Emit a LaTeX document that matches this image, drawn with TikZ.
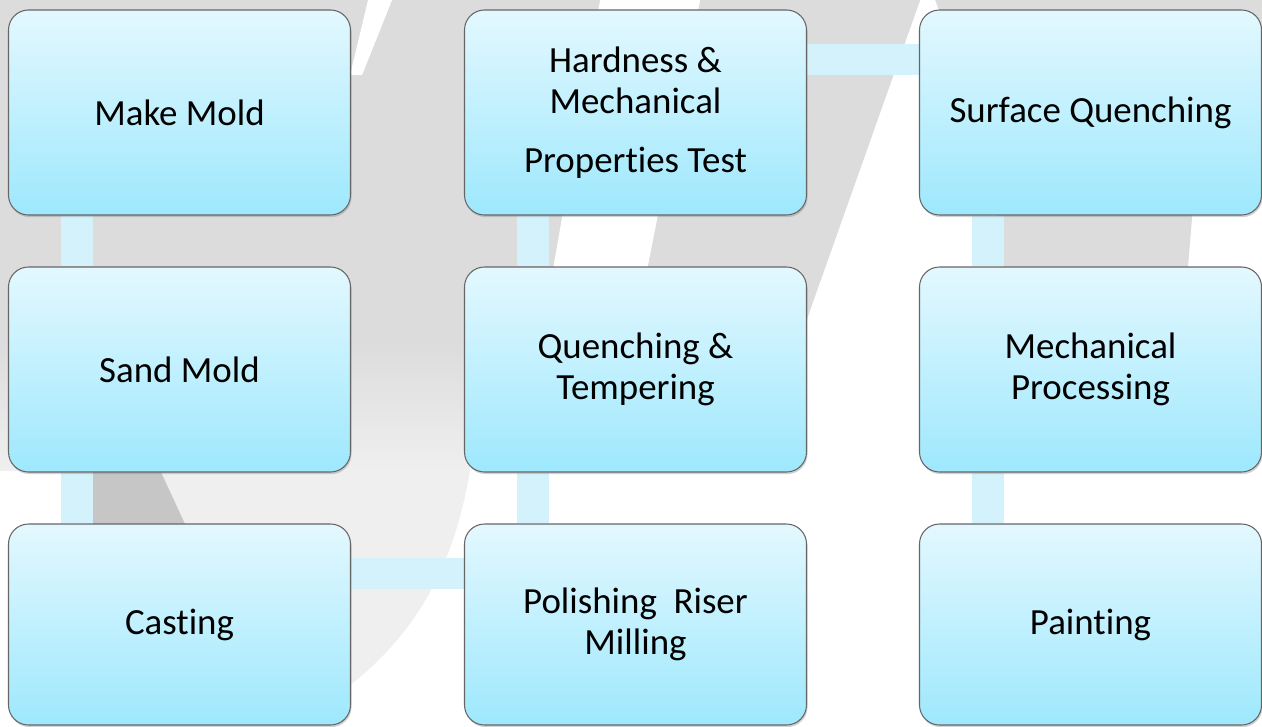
\documentclass[tikz,border=0pt]{standalone}
\usepackage{fontspec}
\setmainfont[RawFeature=-liga]{Carlito}
\usetikzlibrary{shadows,backgrounds}

\definecolor{boxtop}{HTML}{E3F8FE}
\definecolor{boxbot}{HTML}{9EE8FD}
\definecolor{barcol}{HTML}{D3F2FB}
\definecolor{wmgray}{HTML}{DCDCDC}
\definecolor{wmlight}{HTML}{EFEFEF}

\tikzset{
  stepbox/.style={rectangle, rounded corners=0.4cm, draw=black!60, line width=0.6pt,
    top color=boxtop, bottom color=boxbot, minimum width=6.84cm, minimum height=4.1cm,
    inner sep=0pt, align=center, font=\fontsize{21}{23.5}\selectfont,
    drop shadow={shadow xshift=0.6pt, shadow yshift=-1.2pt, opacity=0.35}},
  link/.style={draw=barcol, line width=18pt}
}

\begin{document}
\begin{tikzpicture}
\useasboundingbox (0,0) rectangle (25.24,-14.52);
\node[stepbox] (1)at(3.59,-2.25){Make Mold};
\node[stepbox] (2)at(3.59,-7.39){Sand Mold};
\node[stepbox,minimum height=4.02cm] (3)at(3.59,-12.49){Casting};
\node[stepbox,minimum height=4.02cm] (4)at(12.71,-12.49){Polishing\ \ Riser\\Milling};
\node[stepbox] (5)at(12.71,-7.39){Quenching \&\\Tempering};
\node[stepbox] (6)at(12.71,-2.25){Hardness \&\\Mechanical\\[10pt]Properties Test};
\node[stepbox] (7)at(21.81,-2.25){Surface Quenching};
\node[stepbox] (8)at(21.81,-7.39){Mechanical\\Processing};
\node[stepbox,minimum height=4.02cm] (9)at(21.81,-12.49){Painting};
\begin{scope}[on background layer]
% watermark behind the chart
\begin{scope}[x=0.02cm,y=-0.02cm]
\fill[white] (0,0) rectangle (1262,726);
\fill[wmgray] (0,0) -- (920,0) -- (810,310) -- (800,340) -- (0,340) -- cycle;
\fill[wmgray] (935,0) -- (1262,0) -- (1262,150) -- (1192,215) -- (1185,300) -- (1006,300) -- (990,150) -- cycle;
\shade[top color=wmgray, bottom color=wmlight] (0,340) rectangle (470,470);
\fill[wmlight] (160,470) -- (470,470) .. controls (455,560) and (420,630) .. (350,685)
  .. controls (300,710) and (240,690) .. (200,600) -- cycle;
\fill[wmgray!90!black] (93,470) -- (160,470) -- (185,524) -- (93,524) -- cycle;
\fill[white] (368,0) -- (392,0) -- (362,75) -- (350,75) -- cycle;
\fill[white] (600,0) -- (700,0) -- (645,280) -- (551,280) -- cycle;
\end{scope}
% links
\draw[link] ([xshift=1.38cm]1.south west) -- ([xshift=1.38cm]2.north west);
\draw[link] ([xshift=1.38cm]2.south west) -- ([xshift=1.38cm]3.north west);
\draw[link] ([yshift=-1cm]3.north east) -- ([yshift=-1cm]4.north west);
\draw[link] ([xshift=1.38cm]4.north west) -- ([xshift=1.38cm]5.south west);
\draw[link] ([xshift=1.38cm]5.north west) -- ([xshift=1.38cm]6.south west);
\draw[link] ([yshift=-1cm]6.north east) -- ([yshift=-1cm]7.north west);
\draw[link] ([xshift=1.38cm]7.south west) -- ([xshift=1.38cm]8.north west);
\draw[link] ([xshift=1.38cm]8.south west) -- ([xshift=1.38cm]9.north west);
\end{scope}
\end{tikzpicture}
\end{document}
